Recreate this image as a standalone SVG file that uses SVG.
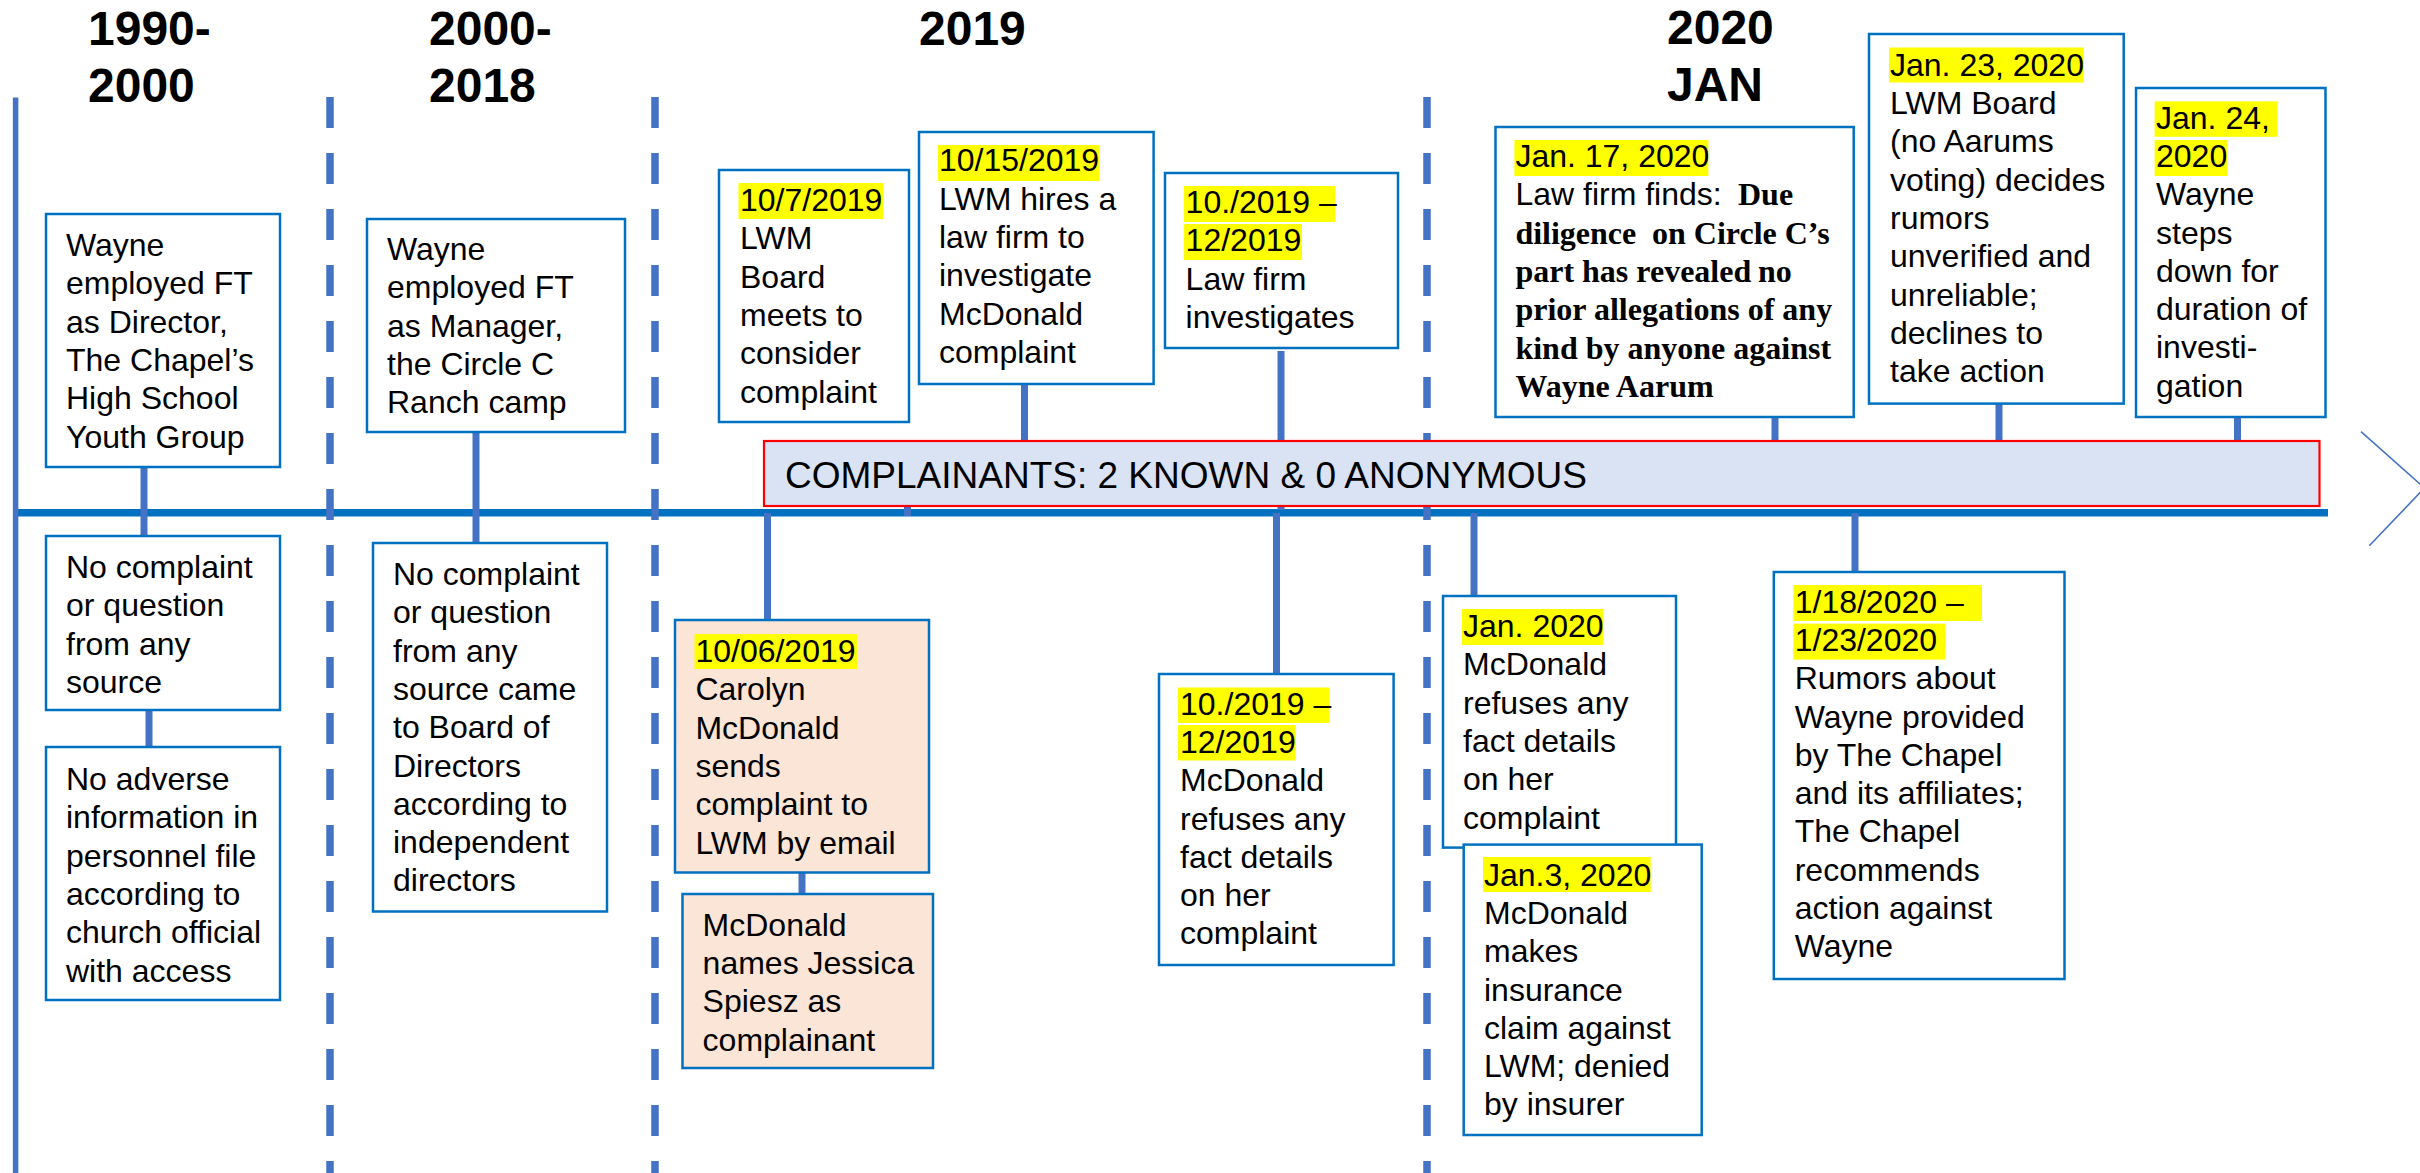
<svg xmlns="http://www.w3.org/2000/svg" width="2420" height="1173" viewBox="0 0 2420 1173">
<style>
.t{font-family:"Liberation Sans",Arial,sans-serif;font-size:32px;fill:#000}
.h{font-family:"Liberation Sans",Arial,sans-serif;font-size:48px;font-weight:bold;fill:#000}
.b{font-family:"Liberation Serif","Times New Roman",serif;font-weight:bold}
.box{fill:#fff;stroke:#0070C0;stroke-width:2.5}
.peach{fill:#FBE5D6;stroke:#0070C0;stroke-width:2.5}
.hl{fill:#FFFF00}
.con{stroke:#4472C4;stroke-width:7;fill:none}
.dash{stroke:#4472C4;stroke-width:7.5;stroke-dasharray:31 25;fill:none}
</style>
<rect width="2420" height="1173" fill="#fff"/>

<g id="titles">
<text class="h" x="88" y="45">1990-<tspan x="88" y="102">2000</tspan></text>
<text class="h" x="429" y="45">2000-<tspan x="429" y="102">2018</tspan></text>
<text class="h" x="919" y="45">2019</text>
<text class="h" x="1667" y="44">2020<tspan x="1667" y="101">JAN</tspan></text>
</g>

<g id="axis">
<line x1="15" y1="512.8" x2="2328" y2="512.8" stroke="#0070C0" stroke-width="7.6"/>
<line x1="15.6" y1="97.6" x2="15.6" y2="1173" stroke="#4472C4" stroke-width="5.5"/>
<line class="dash" x1="330" y1="97" x2="330" y2="1173"/>
<line class="dash" x1="655" y1="97" x2="655" y2="1173"/>
<line class="dash" x1="1427" y1="97" x2="1427" y2="1173"/>
<polyline points="2361,431.7 2424.5,488 2369.3,545.7" fill="none" stroke="#4472C4" stroke-width="1.6"/>
</g>

<g id="connectors">
<line class="con" x1="144" y1="467" x2="144" y2="536"/>
<line class="con" x1="476" y1="432" x2="476" y2="543"/>
<line class="con" x1="149" y1="710" x2="149" y2="747"/>
<line class="con" x1="767.5" y1="513" x2="767.5" y2="620"/>
<line class="con" x1="802" y1="872" x2="802" y2="894"/>
<line class="con" x1="907.5" y1="500" x2="907.5" y2="516"/>
<line class="con" x1="1024.5" y1="384" x2="1024.5" y2="445"/>
<line class="con" x1="1281" y1="351" x2="1281" y2="510"/>
<line class="con" x1="1276.5" y1="513" x2="1276.5" y2="674"/>
<line class="con" x1="1474" y1="513" x2="1474" y2="596"/>
<line class="con" x1="1775" y1="417" x2="1775" y2="445"/>
<line class="con" x1="1855" y1="513" x2="1855" y2="572"/>
<line class="con" x1="1999" y1="403" x2="1999" y2="445"/>
<line class="con" x1="2237.5" y1="417" x2="2237.5" y2="445"/>
</g>

<g id="complainants">
<rect x="764" y="441" width="1555.5" height="65" fill="#DAE3F3" stroke="#FF0000" stroke-width="2.2"/>
<text class="t" x="785" y="488" style="font-size:37px">COMPLAINANTS: 2 KNOWN &amp; 0 ANONYMOUS</text>
</g>

<g id="n1990-employed">
<rect class="box" x="46" y="214" width="234" height="253"/>
<text class="t" x="66" y="256">Wayne<tspan x="66" dy="38.3">employed FT</tspan><tspan x="66" dy="38.3">as Director,</tspan><tspan x="66" dy="38.3">The Chapel’s</tspan><tspan x="66" dy="38.3">High School</tspan><tspan x="66" dy="38.3">Youth Group</tspan></text>
</g>

<g id="n1990-nocomplaint">
<rect class="box" x="46" y="536" width="234" height="174"/>
<text class="t" x="66" y="578">No complaint<tspan x="66" dy="38.3">or question</tspan><tspan x="66" dy="38.3">from any</tspan><tspan x="66" dy="38.3">source</tspan></text>
</g>

<g id="n1990-noadverse">
<rect class="box" x="46" y="747" width="234" height="253"/>
<text class="t" x="66" y="790">No adverse<tspan x="66" dy="38.3">information in</tspan><tspan x="66" dy="38.3">personnel file</tspan><tspan x="66" dy="38.3">according to</tspan><tspan x="66" dy="38.3">church official</tspan><tspan x="66" dy="38.3">with access</tspan></text>
</g>

<g id="n2000-employed">
<rect class="box" x="367" y="219" width="258" height="213"/>
<text class="t" x="387" y="260">Wayne<tspan x="387" dy="38.3">employed FT</tspan><tspan x="387" dy="38.3">as Manager,</tspan><tspan x="387" dy="38.3">the Circle C</tspan><tspan x="387" dy="38.3">Ranch camp</tspan></text>
</g>

<g id="n2000-nocomplaint">
<rect class="box" x="373" y="543" width="234" height="368.5"/>
<text class="t" x="393" y="585">No complaint<tspan x="393" dy="38.3">or question</tspan><tspan x="393" dy="38.3">from any</tspan><tspan x="393" dy="38.3">source came</tspan><tspan x="393" dy="38.3">to Board of</tspan><tspan x="393" dy="38.3">Directors</tspan><tspan x="393" dy="38.3">according to</tspan><tspan x="393" dy="38.3">independent</tspan><tspan x="393" dy="38.3">directors</tspan></text>
</g>

<g id="n-2019-10-07">
<rect class="box" x="719" y="170" width="190" height="252"/>
<rect class="hl" x="738.5" y="183" width="144.5" height="36"/>
<text class="t" x="740" y="211">10/7/2019<tspan x="740" dy="38.3">LWM</tspan><tspan x="740" dy="38.3">Board</tspan><tspan x="740" dy="38.3">meets to</tspan><tspan x="740" dy="38.3">consider</tspan><tspan x="740" dy="38.3">complaint</tspan></text>
</g>

<g id="n-2019-10-15">
<rect class="box" x="919" y="132" width="234.6" height="252"/>
<rect class="hl" x="938" y="145" width="161.5" height="36"/>
<text class="t" x="939" y="171.4">10/15/2019<tspan x="939" dy="38.3">LWM hires a</tspan><tspan x="939" dy="38.3">law firm to</tspan><tspan x="939" dy="38.3">investigate</tspan><tspan x="939" dy="38.3">McDonald</tspan><tspan x="939" dy="38.3">complaint</tspan></text>
</g>

<g id="n-2019-lawfirm">
<rect class="box" x="1165" y="173" width="233" height="175"/>
<rect class="hl" x="1184" y="186" width="151" height="36"/>
<rect class="hl" x="1184" y="224" width="118" height="36"/>
<text class="t" x="1185.6" y="212.5">10./2019 –<tspan x="1185.6" dy="38.5">12/2019</tspan><tspan x="1185.6" dy="38.5">Law firm</tspan><tspan x="1185.6" dy="38.5">investigates</tspan></text>
</g>

<g id="n-2019-10-06">
<rect class="peach" x="675" y="620" width="254" height="252.5"/>
<rect class="hl" x="694.5" y="634" width="162.5" height="35"/>
<text class="t" x="695.4" y="662">10/06/2019<tspan x="695.4" dy="38.3">Carolyn</tspan><tspan x="695.4" dy="38.3">McDonald</tspan><tspan x="695.4" dy="38.3">sends</tspan><tspan x="695.4" dy="38.3">complaint to</tspan><tspan x="695.4" dy="38.3">LWM by email</tspan></text>
</g>

<g id="n-2019-spiesz">
<rect class="peach" x="682.5" y="894" width="250.5" height="174"/>
<text class="t" x="702.6" y="935.6">McDonald<tspan x="702.6" dy="38.3">names Jessica</tspan><tspan x="702.6" dy="38.3">Spiesz as</tspan><tspan x="702.6" dy="38.3">complainant</tspan></text>
</g>

<g id="n-2019-refuses">
<rect class="box" x="1159" y="674" width="234.6" height="291"/>
<rect class="hl" x="1178" y="687.5" width="151.6" height="35.5"/>
<rect class="hl" x="1178" y="725" width="117.6" height="35.5"/>
<text class="t" x="1180" y="714.6">10./2019 –<tspan x="1180" dy="38.3">12/2019</tspan><tspan x="1180" dy="38.3">McDonald</tspan><tspan x="1180" dy="38.3">refuses any</tspan><tspan x="1180" dy="38.3">fact details</tspan><tspan x="1180" dy="38.3">on her</tspan><tspan x="1180" dy="38.3">complaint</tspan></text>
</g>

<g id="n-2020-01-17">
<rect class="box" x="1495.5" y="127" width="358.2" height="290"/>
<rect class="hl" x="1514.4" y="140" width="194" height="36"/>
<text class="t" x="1515.4" y="167">Jan. 17, 2020<tspan x="1515.4" dy="38.3">Law firm finds:</tspan><tspan class="b" x="1738">Due</tspan><tspan class="b" x="1515.4" dy="38.3">diligence</tspan><tspan class="b" x="1652">on Circle C’s</tspan><tspan class="b" x="1515.4" dy="38.3">part has revealed</tspan><tspan class="b" x="1758">no</tspan><tspan class="b" x="1515.4" dy="38.3">prior allegations of any</tspan><tspan class="b" x="1515.4" dy="38.3">kind by anyone against</tspan><tspan class="b" x="1515.4" dy="38.3">Wayne Aarum</tspan></text>
</g>

<g id="n-2020-01-23">
<rect class="box" x="1869" y="34" width="254.7" height="369.6"/>
<rect class="hl" x="1889" y="47.5" width="194.7" height="35"/>
<text class="t" x="1890" y="75.7">Jan. 23, 2020<tspan x="1890" dy="38.3">LWM Board</tspan><tspan x="1890" dy="38.3">(no Aarums</tspan><tspan x="1890" dy="38.3">voting) decides</tspan><tspan x="1890" dy="38.3">rumors</tspan><tspan x="1890" dy="38.3">unverified and</tspan><tspan x="1890" dy="38.3">unreliable;</tspan><tspan x="1890" dy="38.3">declines to</tspan><tspan x="1890" dy="38.3">take action</tspan></text>
</g>

<g id="n-2020-01-24">
<rect class="box" x="2136" y="88" width="189.5" height="329"/>
<rect class="hl" x="2154.6" y="101.4" width="123" height="35.4"/>
<rect class="hl" x="2154.6" y="140" width="72.4" height="36"/>
<text class="t" x="2156" y="128.6">Jan. 24,<tspan x="2156" dy="38.3">2020</tspan><tspan x="2156" dy="38.3">Wayne</tspan><tspan x="2156" dy="38.3">steps</tspan><tspan x="2156" dy="38.3">down for</tspan><tspan x="2156" dy="38.3">duration of</tspan><tspan x="2156" dy="38.3">investi-</tspan><tspan x="2156" dy="38.3">gation</tspan></text>
</g>

<g id="n-2020-01">
<rect class="box" x="1443" y="596" width="233" height="251.6"/>
<rect class="hl" x="1462" y="609" width="141" height="36"/>
<text class="t" x="1463" y="637">Jan. 2020<tspan x="1463" dy="38.3">McDonald</tspan><tspan x="1463" dy="38.3">refuses any</tspan><tspan x="1463" dy="38.3">fact details</tspan><tspan x="1463" dy="38.3">on her</tspan><tspan x="1463" dy="38.3">complaint</tspan></text>
</g>

<g id="n-2020-01-03">
<rect class="box" x="1463.7" y="844.6" width="238" height="290.4"/>
<rect class="hl" x="1483" y="857" width="167.7" height="35"/>
<text class="t" x="1484" y="885.6">Jan.3, 2020<tspan x="1484" dy="38.3">McDonald</tspan><tspan x="1484" dy="38.3">makes</tspan><tspan x="1484" dy="38.3">insurance</tspan><tspan x="1484" dy="38.3">claim against</tspan><tspan x="1484" dy="38.3">LWM; denied</tspan><tspan x="1484" dy="38.3">by insurer</tspan></text>
</g>

<g id="n-2020-01-18">
<rect class="box" x="1773.8" y="572" width="290.7" height="407"/>
<rect class="hl" x="1793.4" y="585" width="188.6" height="36"/>
<rect class="hl" x="1793.4" y="623.6" width="152.2" height="36"/>
<text class="t" x="1794.7" y="612.6">1/18/2020 –<tspan x="1794.7" dy="38.3">1/23/2020</tspan><tspan x="1794.7" dy="38.3">Rumors about</tspan><tspan x="1794.7" dy="38.3">Wayne provided</tspan><tspan x="1794.7" dy="38.3">by The Chapel</tspan><tspan x="1794.7" dy="38.3">and its affiliates;</tspan><tspan x="1794.7" dy="38.3">The Chapel</tspan><tspan x="1794.7" dy="38.3">recommends</tspan><tspan x="1794.7" dy="38.3">action against</tspan><tspan x="1794.7" dy="38.3">Wayne</tspan></text>
</g>
</svg>
